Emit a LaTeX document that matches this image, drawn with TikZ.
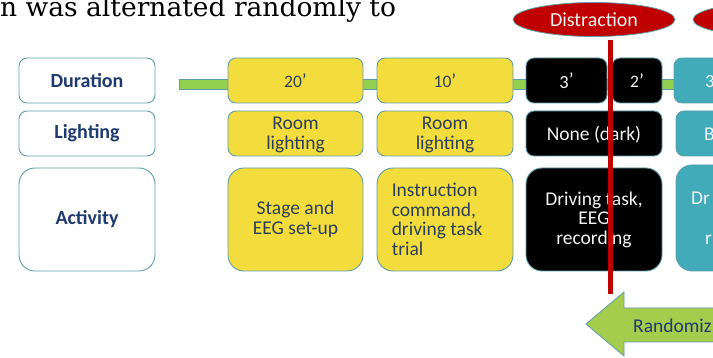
\documentclass[tikz,border=0pt]{standalone}
\usepackage{fontspec}
\setmainfont{Carlito}
\newfontfamily\headserif{DejaVu Serif}
\usetikzlibrary{shapes.geometric}
\definecolor{bordc}{HTML}{5E9EAA}
\definecolor{labtext}{HTML}{1F3A6E}
\definecolor{yell}{HTML}{F2DD3C}
\definecolor{ytext}{HTML}{2F3F5A}
\definecolor{tealc}{HTML}{41ABBA}
\definecolor{redc}{HTML}{C00000}
\definecolor{greenbar}{HTML}{92D050}
\definecolor{arrowgreen}{HTML}{A5CD4D}
\definecolor{whtext}{HTML}{F2F2F2}
\newcommand\osdig[1]{{\fontsize{17.5}{17.5}\selectfont #1}}
\newcommand\osdrop[1]{\raisebox{-2pt}{\fontsize{18.5}{18.5}\selectfont #1}}
\begin{document}
\begin{tikzpicture}[x=1pt,y=-1pt,
  box/.style={draw=bordc, line width=0.9pt, rounded corners=8pt, align=center,
    inner sep=0pt, font=\fontsize{19.5}{19.5}\selectfont},
  bigbox/.style={box, rounded corners=16pt},
  labbox/.style={fill=white, text=labtext, font=\fontsize{20}{20}\selectfont\bfseries},
  yelbox/.style={fill=yell, text=ytext},
  blkbox/.style={fill=black, text=whtext},
  tealbox/.style={fill=tealc, text=whtext},
  txt/.style={inner sep=0pt, font=\fontsize{19.5}{19.5}\selectfont},
  oval/.style={ellipse, fill=redc, draw=bordc, line width=0.8pt, text=whtext,
    minimum width=162pt, minimum height=34pt, inner sep=0pt, font=\fontsize{20}{20}\selectfont},
  redline/.style={draw=redc, line width=5pt},
]
\useasboundingbox (0,0) rectangle (713,358);
\clip (0,0) rectangle (713,358);

% heading text
\node[anchor=base west, inner sep=0pt, font=\headserif\fontsize{26.5}{26.5}\selectfont] (head) at (0,16.5) {n was alternated randomly to};

% green timeline bar
\path[fill=greenbar, draw=bordc, line width=0.6pt] (179,79) rectangle (700,89);

% label column
\node[box, labbox, minimum width=136pt, minimum height=45pt] (dur) at (87,80.5) {Duration};
\node[box, labbox, minimum width=136pt, minimum height=45pt] (lig) at (87,133.5) {Lighting};
\node[bigbox, labbox, minimum width=136pt, minimum height=103pt] (act) at (87,219.5) {Activity};

% yellow column 1
\node[box, yelbox, minimum width=135pt, minimum height=45pt] (d20) at (295.5,80.5) {\osdig{20}’};
\node[box, yelbox, minimum width=135pt, minimum height=45pt] (l1) at (295.5,133.5) {};
\node[txt, text=ytext, align=center] (l1t) at (295.5,135) {Room\\lighting};
\node[bigbox, yelbox, minimum width=135pt, minimum height=103pt] (a1) at (295.5,219.5) {Stage and\\EEG set-up};

% yellow column 2
\node[box, yelbox, minimum width=136pt, minimum height=45pt] (d10) at (445,80.5) {\osdig{10}’};
\node[box, yelbox, minimum width=136pt, minimum height=45pt] (l2) at (445,133.5) {};
\node[txt, text=ytext, align=center] (l2t) at (445,135) {Room\\lighting};
\node[bigbox, yelbox, minimum width=136pt, minimum height=103pt] (a2) at (445,219.5) {};
\node[txt, text=ytext, anchor=west, align=left] (a2t) at ([xshift=15pt]a2.west) {Instruction\\command,\\driving task\\trial};

% black column
\node[box, blkbox, minimum width=81pt, minimum height=45pt] (d3) at (566.5,80.5) {\osdrop{3}’};
\node[box, blkbox, minimum width=50pt, minimum height=45pt] (d2) at (637,80.5) {\osdig{2}’};
\node[box, blkbox, minimum width=136pt, minimum height=45pt] (l3) at (594,133.5) {};
\node[txt, text=whtext] (l3t) at (594,134.5) {None (dark)};
\node[bigbox, blkbox, minimum width=136pt, minimum height=103pt] (a3) at (594,219.5) {Driving task,\\EEG\\recording};

% teal column (cut off)
\node[box, tealbox, minimum width=81pt, minimum height=45pt] (d4) at (714.5,80.5) {};
\node[txt, text=whtext, anchor=west] (d4t) at (705,82) {\osdrop{3}};
\node[box, tealbox, minimum width=136pt, minimum height=45pt] (l4) at (744,133.5) {};
\node[txt, text=whtext, anchor=west] (l4t) at (704,134.5) {B};
\node[bigbox, tealbox, minimum width=136pt, minimum height=106pt] (a4) at (744,218) {};
\node[txt, text=whtext, anchor=west] (a4t1) at (691,198) {Dr};
\node[txt, text=whtext, anchor=west] (a4t2) at (705,240) {r};

% distraction ovals
\node[oval] (dis1) at (594,19.5) {Distraction};
\node[oval] (dis2) at (774,19.5) {};

% red line
\coordinate (rtop) at (610,40);
\coordinate (rbot) at (610,294);
\draw[redline] (rtop) -- (rbot);

% randomization arrow
\path[fill=arrowgreen, draw=bordc, line width=0.8pt]
  (586,324) -- (624,292) -- (624,308) -- (740,308) -- (740,342) -- (624,342) -- (624,356) -- cycle;
\node[txt, text=labtext, anchor=west] (rand) at (633,326) {Randomiz};
\end{tikzpicture}
\end{document}
